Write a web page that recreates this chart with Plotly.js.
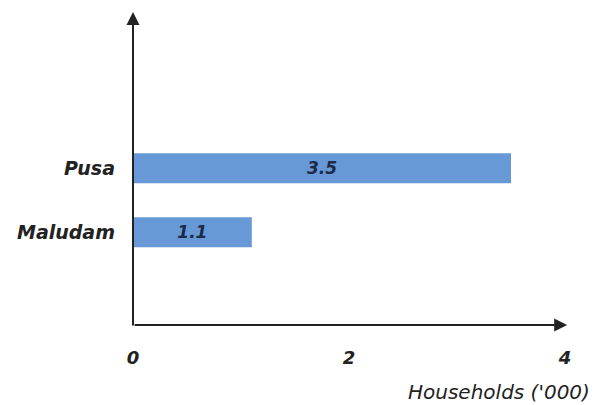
<!DOCTYPE html>
<html>
<head>
<meta charset="utf-8">
<script src="https://cdn.plot.ly/plotly-3.0.1.min.js"></script>
<style>html,body{margin:0;padding:0;background:#fff;}#chart{width:602px;height:405px;}</style>
</head>
<body>
<div id="chart"></div>
<script>
const categories = ["Maludam", "Pusa"];
const households = [1.1, 3.5];
const valueLabels = ["1.1", "3.5"];
const xTickVals = [0, 2, 4];
const xTickText = ["0", "2", "4"];
const xTitle = "Households ('000)";

const FONT = "DejaVu Sans, sans-serif";

const trace = {
  type: "bar",
  orientation: "h",
  y: categories,
  x: households,
  text: valueLabels,
  texttemplate: "<b><i>%{text}</i></b>",
  textposition: "inside",
  insidetextanchor: "middle",
  textfont: {family: FONT, size: 17, color: "#1c2a48"},
  marker: {color: "#6699d6"},
  width: 0.47,
  hoverinfo: "none"
};

const layout = {
  width: 602, height: 405,
  margin: {l: 133, r: 37, t: 12, b: 80},
  paper_bgcolor: "#fff", plot_bgcolor: "#fff",
  showlegend: false,
  xaxis: {
    range: [0, 4], tickvals: xTickVals, ticktext: xTickText.map(t => "<b><i>" + t + "</i></b>"),
    showgrid: false, zeroline: false, showline: false, ticks: "",
    ticklabelstandoff: 20,
    tickfont: {family: FONT, size: 18, color: "#222"}
  },
  yaxis: {
    type: "category",
    range: [-1.45, 3.44],
    tickvals: categories, ticktext: categories.map(t => "<b><i>" + t + "</i></b>"),
    showgrid: false, zeroline: false, showline: false, ticks: "",
    ticklabelstandoff: 17,
    tickfont: {family: FONT, size: 19, color: "#222"}
  },
  annotations: [
    {xref: "paper", yref: "paper", x: 1.005, y: 0, ax: -434, ay: 0, text: "",
     showarrow: true, arrowhead: 2, arrowsize: 1.3, arrowwidth: 2, arrowcolor: "#222"},
    {xref: "paper", yref: "paper", x: 0, y: 1.0, ax: 0, ay: 315, text: "",
     showarrow: true, arrowhead: 2, arrowsize: 1.3, arrowwidth: 2, arrowcolor: "#222"},
    {xref: "paper", yref: "paper", x: 1.0625, y: -0.214, xanchor: "right", yanchor: "middle",
     text: "<i>" + xTitle + "</i>", showarrow: false,
     font: {family: FONT, size: 20, color: "#222"}}
  ]
};

Plotly.newPlot("chart", [trace], layout, {displayModeBar: false, staticPlot: true});
</script>
</body>
</html>
